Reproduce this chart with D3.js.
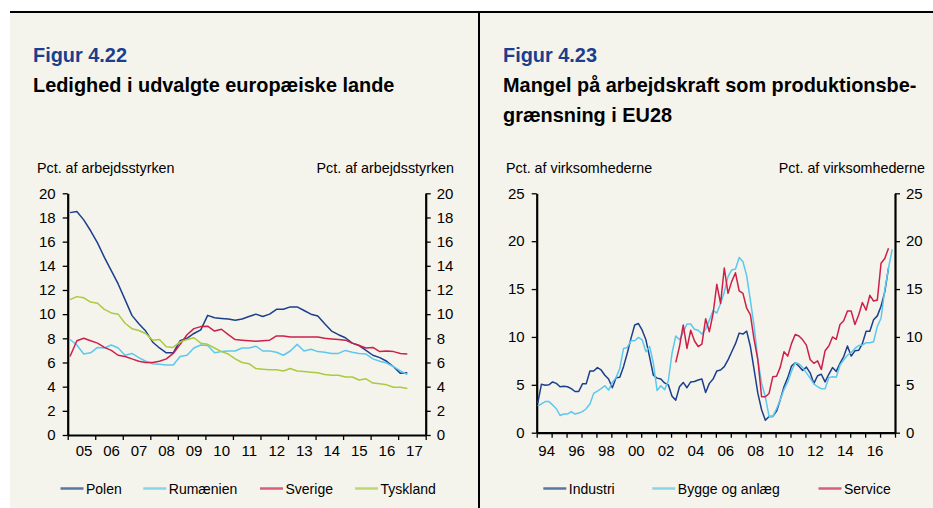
<!DOCTYPE html>
<html>
<head>
<meta charset="utf-8">
<script src="https://cdn.jsdelivr.net/npm/d3@7/dist/d3.min.js"></script>
<style>
  html, body { margin: 0; padding: 0; background: #ffffff; }
  svg { display: block; font-family: "Liberation Sans", Arial, sans-serif; }
</style>
</head>
<body>
<svg id="chart" width="933" height="508"></svg>
<script>
// ---- Figur 4.22: quarterly unemployment, 2005K1 onwards (pct. af arbejdsstyrken)
const leftStartYear = 2005;
const leftYearTicks = [2005, 2006, 2007, 2008, 2009, 2010, 2011, 2012, 2013, 2014, 2015, 2016, 2017, 2018];
const leftYearLabels = ["05", "06", "07", "08", "09", "10", "11", "12", "13", "14", "15", "16", "17"];
const leftValueTicks = [0, 2, 4, 6, 8, 10, 12, 14, 16, 18, 20];

const polen = [18.4, 18.5, 17.8, 16.9, 15.9, 14.7, 13.6, 12.5, 11.2, 9.9,
  9.2, 8.6, 7.7, 7.2, 6.8, 6.8, 7.8, 8.0, 8.4, 8.7,
  9.9, 9.7, 9.65, 9.6, 9.5, 9.6, 9.8, 10.0, 9.8, 10.0,
  10.4, 10.4, 10.6, 10.6, 10.3, 10.0, 9.85, 9.2, 8.6, 8.3,
  8.05, 7.6, 7.4, 7.0, 6.6, 6.4, 6.1, 5.65, 5.1, 5.15];
const rumaenien = [7.9, 7.45, 6.7, 6.8, 7.25, 7.2, 7.45, 7.2, 6.6, 6.75,
  6.4, 6.1, 5.9, 5.85, 5.8, 5.8, 6.5, 6.6, 7.2, 7.45,
  7.4, 6.8, 6.9, 6.95, 6.95, 7.2, 7.2, 7.35, 6.95, 6.95,
  6.85, 6.6, 6.95, 7.5, 6.95, 7.1, 6.9, 6.85, 6.75, 6.75,
  7.0, 6.85, 6.75, 6.7, 6.3, 6.1, 5.95, 5.65, 5.3, 5.0];
const sverige = [6.5, 7.8, 8.0, 7.8, 7.6, 7.25, 7.0, 6.6, 6.5, 6.3,
  6.1, 6.0, 6.0, 6.1, 6.3, 6.75, 7.5, 8.3, 8.8, 8.97,
  9.0, 8.6, 8.75, 8.3, 7.9, 7.85, 7.8, 7.75, 7.8, 7.85,
  8.2, 8.2, 8.1, 8.1, 8.1, 8.1, 8.1, 8.0, 7.95, 7.9,
  7.85, 7.6, 7.4, 7.2, 7.25, 6.9, 6.95, 6.9, 6.75, 6.7];
const tyskland = [11.2, 11.45, 11.35, 11.0, 10.9, 10.4, 10.1, 10.0, 9.25, 8.8,
  8.65, 8.4, 7.85, 7.9, 7.3, 7.25, 7.7, 7.9, 8.05, 7.6,
  7.5, 7.2, 6.9, 6.7, 6.3, 6.0, 5.9, 5.5, 5.45, 5.4,
  5.4, 5.3, 5.5, 5.3, 5.25, 5.2, 5.15, 5.0, 4.95, 4.95,
  4.8, 4.8, 4.55, 4.65, 4.3, 4.25, 4.15, 3.95, 3.95, 3.85];

// ---- Figur 4.23: labour shortage as a limiting factor, quarterly from 1994K1 (pct. af virksomhederne)
const rightStartYear = 1994;
const rightYearTicks = d3.range(1994, 2019);
const rightYearLabels = ["94", "96", "98", "00", "02", "04", "06", "08", "10", "12", "14", "16"];
const rightValueTicks = [0, 5, 10, 15, 20, 25];

const industri = [3.07, 5.05, 4.95, 5.0, 5.3, 5.15, 4.8, 4.85, 4.8, 4.6,
  4.3, 4.3, 5.1, 5.1, 6.45, 6.45, 6.8, 6.55, 6.0, 5.6,
  4.7, 5.75, 5.8, 6.9, 8.3, 9.85, 11.25, 11.4, 10.7, 9.7,
  7.9, 6.0, 5.7, 5.6, 5.2, 5.0, 3.8, 3.4, 4.8, 5.25,
  4.7, 5.3, 5.35, 5.5, 5.6, 4.2, 5.15, 5.6, 6.45, 6.55,
  6.9, 7.6, 8.45, 9.3, 10.4, 10.3, 10.6, 9.0, 6.55, 4.1,
  2.4, 1.3, 1.7, 1.7, 2.25, 3.45, 4.8, 5.75, 6.95, 7.3,
  6.95, 6.5, 6.85, 6.25, 5.15, 5.95, 6.1, 5.3, 6.1, 6.8,
  6.4, 7.25, 7.95, 9.05, 8.0, 8.55, 8.6, 9.3, 10.6, 10.6,
  11.8, 12.2, 13.2, 14.7, 17.2];
const byggeOgAnlaeg = [2.8, 3.0, 3.25, 3.25, 2.9, 2.5, 1.8, 1.95, 1.95, 2.2,
  1.95, 2.05, 2.2, 2.5, 3.0, 4.1, 4.35, 4.6, 4.9, 4.45,
  5.25, 5.75, 6.7, 8.8, 8.9, 9.6, 9.6, 9.95, 9.7, 8.45,
  9.0, 7.25, 4.4, 4.9, 4.5, 5.4, 8.3, 10.1, 9.7, 10.5,
  11.35, 11.35, 10.8, 10.7, 10.3, 10.8, 11.75, 12.75, 12.5, 13.5,
  14.7, 16.3, 17.0, 17.1, 18.3, 17.85, 16.4, 13.8, 11.1, 7.6,
  5.15, 3.75, 1.7, 1.7, 2.5, 3.45, 4.5, 5.3, 6.4, 7.3,
  7.2, 6.8, 6.25, 5.7, 5.1, 4.8, 4.6, 4.6, 5.75, 5.85,
  5.8, 7.05, 7.6, 8.1, 8.35, 8.8, 9.1, 9.15, 9.4, 9.4,
  9.5, 11.1, 11.95, 14.9, 17.2, 19.15];
// Service series begins in 2003K2 (quarter index 37 counted from 1994K1)
const serviceFirstQuarter = 37;
const service = [7.35, 9.0, 11.25,
  8.8, 10.7, 9.6, 9.0, 9.25, 11.9, 10.55, 12.45, 15.5, 13.5,
  17.2, 14.55, 15.8, 16.7, 14.8, 14.55, 13.0, 12.3, 9.7, 7.6,
  3.75, 3.75, 4.1, 5.85, 5.9, 6.85, 8.45, 8.0, 9.3, 10.25,
  10.1, 9.7, 9.15, 7.65, 7.25, 7.5, 6.6, 8.55, 9.05, 10.0,
  9.75, 11.3, 11.7, 12.7, 12.7, 11.3, 12.3, 13.6, 12.8, 14.35,
  13.75, 13.85, 17.7, 18.2, 19.25];

const colDark = "#1b3f8c";
const colLight = "#5cc8ef";
const colRed = "#cc2049";
const colGreen = "#a9cb3d";
const bg = "#f5f4ec";

const svg = d3.select("#chart");

// page frame: beige panels, rule on top and divider between the two figures
svg.append("rect").attr("x", 10).attr("y", 12).attr("width", 923).attr("height", 496).attr("fill", bg);
svg.append("line").attr("x1", 10).attr("x2", 933).attr("y1", 12).attr("y2", 12)
  .attr("stroke", "#000").attr("stroke-width", 2);
svg.append("line").attr("x1", 479).attr("x2", 479).attr("y1", 12).attr("y2", 508)
  .attr("stroke", "#000").attr("stroke-width", 2);

function headings(x, fig, lines) {
  svg.append("text").attr("x", x).attr("y", 61.5).attr("fill", "#1b3f8c")
    .attr("font-size", 19.9).attr("font-weight", "bold").text(fig);
  lines.forEach((t, i) => {
    svg.append("text").attr("x", x).attr("y", 91.5 + i * 30).attr("fill", "#000")
      .attr("font-size", 19.9).attr("font-weight", "bold").text(t);
  });
}
headings(33, "Figur 4.22", ["Ledighed i udvalgte europæiske lande"]);
headings(503, "Figur 4.23", ["Mangel på arbejdskraft som produktionsbe-", "grænsning i EU28"]);

function panel(cfg) {
  const x = d3.scaleLinear().domain(cfg.xDomain).range([cfg.x0, cfg.x1]);
  const y = d3.scaleLinear().domain(cfg.yDomain).range([cfg.y0, cfg.yTop]);
  const g = svg.append("g");

  // unit captions
  g.append("text").attr("x", cfg.capLeft).attr("y", 173).attr("font-size", 14.3).text(cfg.unit);
  g.append("text").attr("x", cfg.capRight).attr("y", 173).attr("font-size", 14.3)
    .attr("text-anchor", "end").text(cfg.unit);

  // value axes on both sides
  const yl = g.append("g").attr("transform", `translate(${cfg.x0},0)`)
    .call(d3.axisLeft(y).tickValues(cfg.yTicks).tickSize(5).tickSizeOuter(0).tickPadding(7));
  const yr = g.append("g").attr("transform", `translate(${cfg.x1},0)`)
    .call(d3.axisRight(y).tickValues(cfg.yTicks).tickSize(5).tickSizeOuter(0).tickPadding(6));

  // time axis: year tick marks and centred year labels
  const xt = g.append("g").attr("transform", `translate(0,${cfg.y0})`)
    .call(d3.axisBottom(x).tickValues(cfg.xTicks).tickSize(5).tickSizeOuter(0).tickFormat(""));
  const xl = g.append("g").attr("transform", `translate(0,${cfg.y0})`)
    .call(d3.axisBottom(x).tickValues(cfg.labelYears.map(v => v + cfg.labelSpan / 2))
      .tickSize(0).tickPadding(456 - cfg.y0 - 10.6)
      .tickFormat((d, i) => cfg.labels[i]));
  xl.select(".domain").remove();

  [yl, yr, xt].forEach(a => {
    a.select(".domain").attr("stroke", "#000").attr("stroke-width", 2.2);
    a.selectAll(".tick line").attr("stroke", "#000").attr("stroke-width", 1.3);
  });
  [yl, yr, xl].forEach(a => {
    a.selectAll("text").attr("font-size", 15).attr("fill", "#000")
      .attr("font-family", "'Liberation Sans', Arial, sans-serif");
  });
  xl.selectAll("text").attr("dx", 2);

  // series
  const line = d3.line().x(d => x(d.t)).y(d => y(d.v));
  cfg.series.forEach(s => {
    const pts = s.values.map((v, i) => ({ t: cfg.xDomain[0] + (s.first + i + cfg.phase) / 4, v }));
    g.append("path").datum(pts).attr("d", line).attr("fill", "none")
      .attr("stroke", s.color).attr("stroke-width", 1.5).attr("stroke-linejoin", "round");
  });

  // legend
  cfg.series.forEach(s => {
    g.append("line").attr("x1", s.lx).attr("x2", s.lx + 23).attr("y1", 488.5).attr("y2", 488.5)
      .attr("stroke", s.color).attr("stroke-width", 2.5).attr("opacity", 0.7);
    g.append("text").attr("x", s.lx + 25.5).attr("y", 493.5).attr("font-size", 14).text(s.name);
  });
}

panel({
  xDomain: [leftStartYear, 2018], x0: 67.7, x1: 425.7,
  yDomain: [0, 20], y0: 435, yTop: 193.3,
  yTicks: leftValueTicks, xTicks: leftYearTicks,
  labelYears: leftYearTicks.slice(0, -1), labelSpan: 1, labels: leftYearLabels,
  unit: "Pct. af arbejdsstyrken", capLeft: 37, capRight: 454, phase: 0.33,
  series: [
    { name: "Polen", values: polen, first: 0, color: colDark, lx: 60.5 },
    { name: "Rumænien", values: rumaenien, first: 0, color: colLight, lx: 143.3 },
    { name: "Sverige", values: sverige, first: 0, color: colRed, lx: 260 },
    { name: "Tyskland", values: tyskland, first: 0, color: colGreen, lx: 355 }
  ]
});

panel({
  xDomain: [rightStartYear, 2018], x0: 536.7, x1: 895,
  yDomain: [0, 25], y0: 432.7, yTop: 193.3,
  yTicks: rightValueTicks, xTicks: rightYearTicks,
  labelYears: d3.range(1994, 2018, 2), labelSpan: 1, labels: rightYearLabels,
  unit: "Pct. af virksomhederne", capLeft: 506, capRight: 925, phase: 0.26,
  series: [
    { name: "Industri", values: industri, first: 0, color: colDark, lx: 543.3 },
    { name: "Bygge og anlæg", values: byggeOgAnlaeg, first: 0, color: colLight, lx: 652.3 },
    { name: "Service", values: service, first: serviceFirstQuarter, color: colRed, lx: 818.5 }
  ]
});
</script>
</body>
</html>
